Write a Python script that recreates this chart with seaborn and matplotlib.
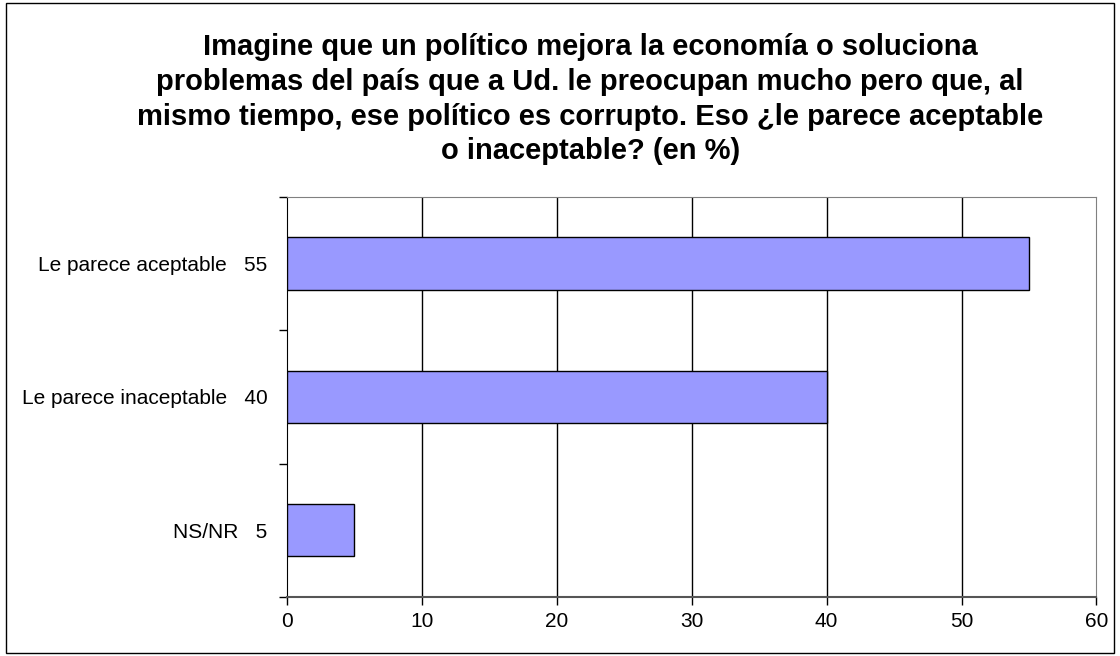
import pandas as pd
import seaborn as sns
import matplotlib.pyplot as plt
from matplotlib.patches import Rectangle

# Data
categories = ['Le parece aceptable', 'Le parece inaceptable', 'NS/NR']
values = [55, 40, 5]
title = ('Imagine que un político mejora la economía o soluciona\n'
         'problemas del país que a Ud. le preocupan mucho pero que, al\n'
         'mismo tiempo, ese político es corrupto. Eso ¿le parece aceptable\n'
         'o inaceptable? (en %)')

df = pd.DataFrame({'cat': [f'{c}   {v}' for c, v in zip(categories, values)],
                   'val': values})

sns.set_style('white')
plt.rcParams['font.family'] = ['Liberation Sans', 'DejaVu Sans']
plt.rcParams['text.color'] = 'black'
plt.rcParams['xtick.color'] = 'black'
plt.rcParams['ytick.color'] = 'black'

fig = plt.figure(figsize=(11.2, 6.56), dpi=100)
ax = fig.add_axes([0.256, 0.090, 0.723, 0.610])

sns.barplot(data=df, x='val', y='cat', orient='h', color='#9999FF',
            edgecolor='black', linewidth=1, width=0.39, saturation=1, ax=ax, zorder=3)

ax.set_xlim(0, 60)
ax.set_ylim(2.5, -0.5)
ax.set_xticks(range(0, 61, 10))
ax.set_xlabel('')
ax.set_ylabel('')

# vertical gridlines
for x in range(10, 60, 10):
    ax.axvline(x, color='black', linewidth=1, zorder=1)

# category boundary ticks on y axis
ax.set_yticks([-0.5, 0.5, 1.5, 2.5], minor=True)
ax.tick_params(axis='y', which='minor', length=6, width=1, color='black', left=True)
ax.tick_params(axis='y', which='major', length=0, labelsize=15, pad=14)
ax.tick_params(axis='x', length=6, width=1, color='black', bottom=True, labelsize=15, pad=5)

for side in ['top', 'right']:
    ax.spines[side].set_color('#808080')
ax.spines['left'].set_color('black')
ax.spines['bottom'].set_color('#555555')
ax.spines['bottom'].set_linewidth(1.5)

fig.text(0.527, 0.949, title, ha='center', va='top', fontsize=21,
         fontweight='bold', linespacing=1.3)

fig.patches.append(Rectangle((0.005, 0.005), 0.99, 0.99, transform=fig.transFigure,
                             fill=False, edgecolor='black', linewidth=1))

fig.savefig('out.png', dpi=100)
